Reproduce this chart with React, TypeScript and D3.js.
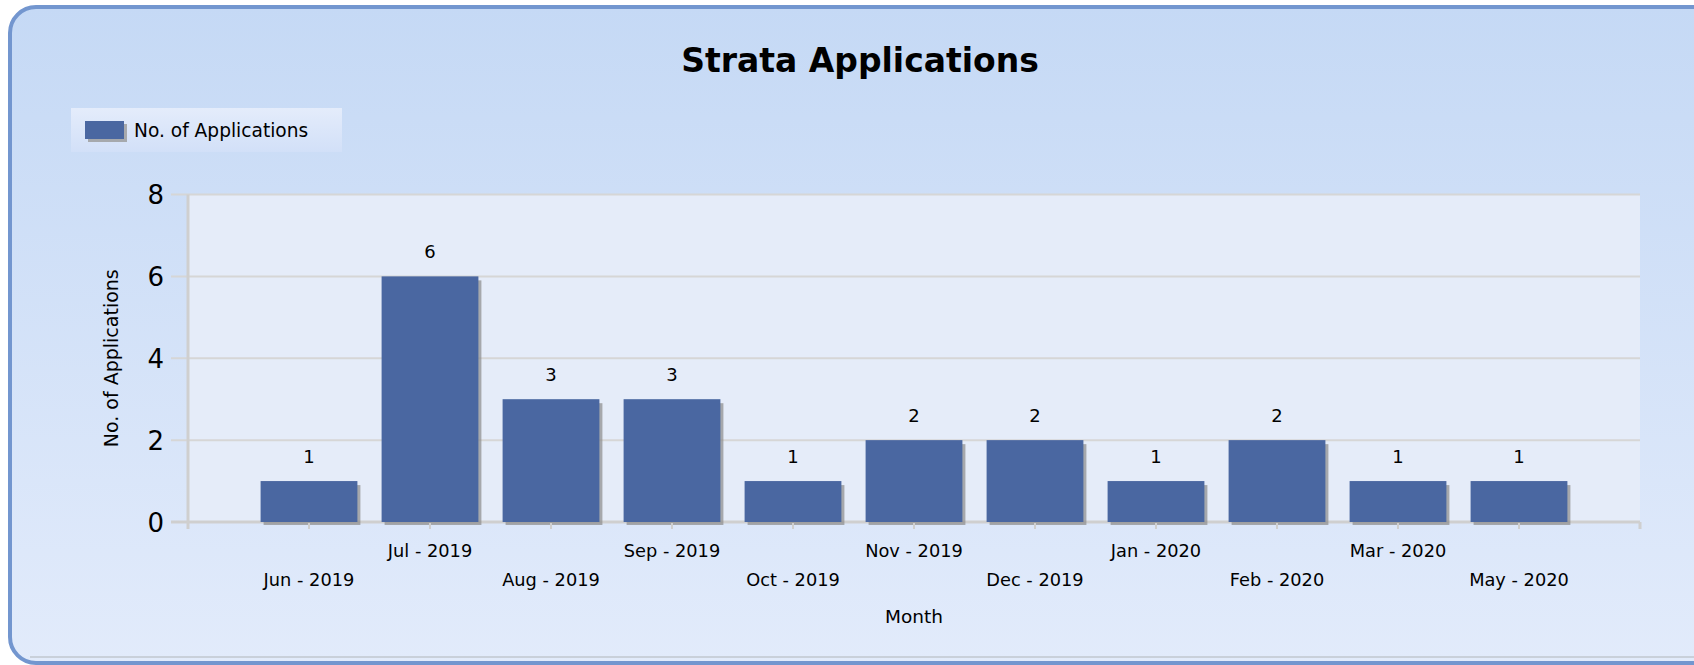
import React from "react";
import * as d3 from "d3";

const months: string[] = [
  "Jun - 2019", "Jul - 2019", "Aug - 2019", "Sep - 2019", "Oct - 2019", "Nov - 2019",
  "Dec - 2019", "Jan - 2020", "Feb - 2020", "Mar - 2020", "May - 2020",
];
const applications: number[] = [1, 6, 3, 3, 1, 2, 2, 1, 2, 1, 1];
const yTicks: number[] = [0, 2, 4, 6, 8];
const chartTitle = "Strata Applications";
const seriesName = "No. of Applications";
const xTitle = "Month";
const yTitle = "No. of Applications";

const W = 1694;
const H = 665;
const FONT = "'DejaVu Sans', Verdana, sans-serif";

export default function App() {
  const plotL = 188, plotR = 1640, plotT = 194.5, plotB = 522;
  const x = d3.scalePoint<string>().domain(months).range([plotL, plotR]).padding(1);
  const y = d3.scaleLinear().domain([0, 8]).range([plotB, plotT]);
  const barW = x.step() * 0.8;

  return (
    <svg width={W} height={H} style={{ position: "absolute", left: 0, top: 0, display: "block" }}
      fontFamily={FONT}>
      <defs>
        <linearGradient id="panelGrad" x1="0" y1="0" x2="0" y2="1">
          <stop offset="0%" stopColor="#c5d9f5" />
          <stop offset="100%" stopColor="#e2ebfb" />
        </linearGradient>
        <linearGradient id="legendGrad" x1="0" y1="0" x2="0" y2="1">
          <stop offset="0%" stopColor="#e4ecfb" />
          <stop offset="100%" stopColor="#d2e0f8" />
        </linearGradient>
      </defs>
      {/* panel */}
      <rect x={10} y={7} width={W + 20} height={H - 9} rx={26} ry={26}
        fill="url(#panelGrad)" stroke="#7396cf" strokeWidth={4} />
      <line x1={30} x2={W} y1={657} y2={657} stroke="#c9d0da" strokeWidth={2} />

      {/* title */}
      <text x={860} y={71.5} textAnchor="middle" fontSize={33} fontWeight="bold" fill="#000">
        {chartTitle}
      </text>

      {/* legend */}
      <rect x={71} y={108} width={271} height={44} fill="url(#legendGrad)" />
      <rect x={88} y={124} width={39} height={18} fill="#9a9a9a" opacity={0.8} />
      <rect x={85} y={121} width={39} height={18} fill="#4a67a1" />
      <text x={134} y={137} fontSize={18.6} fill="#000">{seriesName}</text>

      {/* plot background */}
      <rect x={plotL} y={plotT} width={plotR - plotL} height={plotB - plotT} fill="#e5ecf9" />

      {/* gridlines & y ticks */}
      {yTicks.map((t) => (
        <g key={t}>
          <line x1={171} x2={plotR} y1={y(t)} y2={y(t)} stroke="#d6d6d6" strokeWidth={2} />
          <text x={164} y={y(t) + 9.5} textAnchor="end" fontSize={26} fill="#000">{t}</text>
        </g>
      ))}

      {/* axes */}
      <line x1={plotL} x2={plotL} y1={plotT} y2={plotB + 7} stroke="#cfcfcf" strokeWidth={3} />
      <line x1={171} x2={plotR} y1={plotB} y2={plotB} stroke="#cfcfcf" strokeWidth={3} />
      <line x1={plotR} x2={plotR} y1={plotB} y2={plotB + 7} stroke="#cfcfcf" strokeWidth={3} />

      {/* bars */}
      {months.map((m, i) => {
        const cx = x(m)!;
        const v = applications[i];
        const top = y(v);
        return (
          <g key={m}>
            <rect x={cx - barW / 2 + 3} y={top + 4} width={barW} height={plotB - top - 1}
              fill="#8c8c8c" opacity={0.7} />
            <rect x={cx - barW / 2} y={top} width={barW} height={plotB - top} fill="#4a67a1" />
            <line x1={cx} x2={cx} y1={plotB + 1} y2={plotB + 7} stroke="#cfcfcf" strokeWidth={2} />
            <text x={cx} y={top - 18} textAnchor="middle" fontSize={18} fill="#000">{v}</text>
            <text x={cx} y={i % 2 === 0 ? 586 : 557} textAnchor="middle" fontSize={17.8} fill="#000">{m}</text>
          </g>
        );
      })}

      {/* axis titles */}
      <text x={914} y={623} textAnchor="middle" fontSize={18.5} fill="#000">{xTitle}</text>
      <text transform={`translate(118, ${(plotT + plotB) / 2}) rotate(-90)`} textAnchor="middle"
        fontSize={19} fill="#000">{yTitle}</text>
    </svg>
  );
}
